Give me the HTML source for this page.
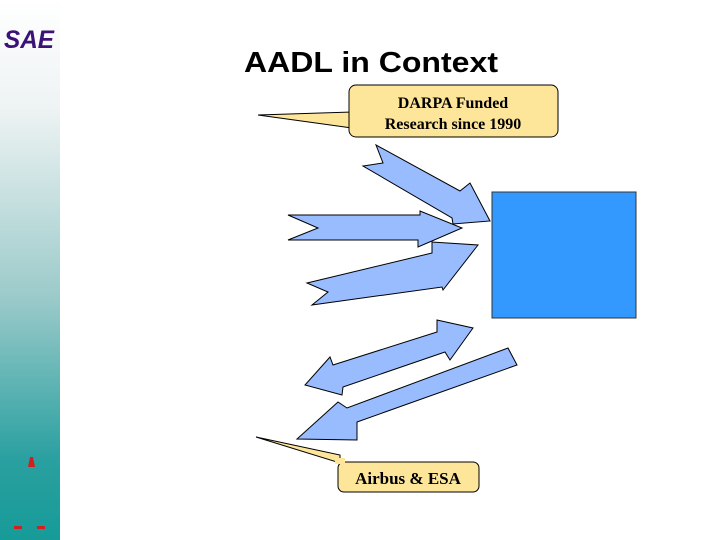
<!DOCTYPE html>
<html><head><style>
body{margin:0;width:720px;height:540px;overflow:hidden;background:#fff;position:relative;font-family:"Liberation Sans",sans-serif}
#side{position:absolute;left:0;top:0;width:60px;height:540px;background:linear-gradient(#fff 0%,#eef3f3 20%,#9ccaca 55%,#2aa0a0 85%,#169b98 100%)}
</style></head><body>
<div id="side"></div>
<svg width="720" height="540" style="position:absolute;left:0;top:0">
<text x="4" y="48" font-family="Liberation Sans" font-weight="bold" font-style="italic" font-size="25" fill="#3a1278" textLength="50" lengthAdjust="spacingAndGlyphs">SAE</text>
<polygon points="30,457 33,457 35,467 28,467" fill="#d02020"/>
<rect x="14" y="526" width="8" height="3" fill="#d02020"/>
<rect x="37" y="526" width="8" height="3" fill="#d02020"/>
<text x="244" y="72" font-size="29" font-weight="bold" fill="#000" textLength="254" lengthAdjust="spacingAndGlyphs">AADL in Context</text>
<g fill="#99bbff" stroke="#000" stroke-width="1">
<polygon points="376,145 460,191 470,183 490,221 453,224 452,218 363,166 383,163"/>
<polygon points="288,215 420,215 420,211 462,228 418,247 418,240 288,240 318,228"/>
<polygon points="307,283 432,253 432,242 478,245 443,290 442,287 312,305 328,292"/>
<polygon points="305,385 330,357 333,365 437,332 437,320 473,328 450,360 445,352 343,387 342,395"/>
<polygon points="508,348 517,365 357,422 357,440 297,439 338,402 347,408"/>
</g>
<rect x="492" y="192" width="144" height="126" fill="#3399ff" stroke="#333"/>
<g fill="#fde59a" stroke="#000">
<polygon points="258,115 352,112 352,128"/>
<rect x="349" y="85" width="209" height="52" rx="7"/>
<polygon points="256,437 340,455 340,463"/>
<rect x="338" y="462" width="141" height="30" rx="6"/>
</g>
<rect x="350" y="110" width="6" height="15" fill="#fde59a"/>
<rect x="335" y="458" width="10" height="6" fill="#fde59a"/>
<g font-family="Liberation Serif" font-size="16" font-weight="bold" fill="#000" text-anchor="middle">
<text x="453" y="108">DARPA Funded</text>
<text x="453" y="129">Research since 1990</text>
<text x="408" y="484" font-size="17">Airbus &amp; ESA</text>
</g>
</svg>
</body></html>
